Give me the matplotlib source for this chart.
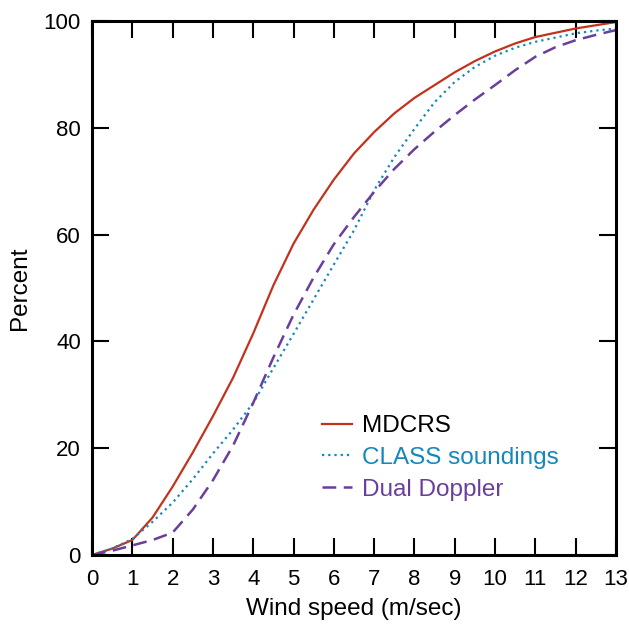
import matplotlib
matplotlib.use("Agg")
import matplotlib.pyplot as plt

plt.rcParams['font.family'] = ['Liberation Sans', 'DejaVu Sans']

wind = [0, 0.5, 1, 1.5, 2, 2.5, 3, 3.5, 4, 4.5, 5, 5.5, 6, 6.5, 7, 7.5, 8, 8.5,
        9, 9.5, 10, 10.5, 11, 11.5, 12, 12.5, 13]
mdcrs = [0, 1.2, 2.8, 7, 12.8, 19.2, 26, 33.2, 41.5, 50.5, 58.3, 64.7, 70.3, 75.2, 79.2,
         82.7, 85.6, 88, 90.4, 92.5, 94.3, 95.8, 97, 97.8, 98.6, 99.2, 99.8]
class_snd = [0, 1.2, 3, 6.2, 9.8, 14.2, 19, 23.5, 28.5, 35, 41.4, 47.9, 54.4, 60.8, 68.3,
             74.5, 79.8, 84.8, 88.6, 91.4, 93.5, 95, 96.1, 96.9, 97.7, 98.2, 98.6]
dual = [0, 0.8, 1.8, 2.8, 4.2, 8.5, 14, 20.5, 28.5, 37, 45, 52, 58.2, 63.3, 68,
        72.3, 76, 79.3, 82.4, 85.3, 88, 90.8, 93.3, 95.1, 96.4, 97.4, 98.3]

labels = ["MDCRS", "CLASS soundings", "Dual Doppler"]
colors = ["#c4321d", "#1587bd", "#6a3f9c"]
xticks = list(range(0, 14))
yticks = [0, 20, 40, 60, 80, 100]

fig = plt.figure(figsize=(6.29, 6.25), dpi=100)
ax = fig.add_axes([0.1463, 0.112, 0.8330, 0.8544])

ax.plot(wind, mdcrs, color=colors[0], lw=1.6, label=labels[0])
ax.plot(wind, class_snd, color=colors[1], lw=1.6, linestyle=(0, (1, 1.8)), label=labels[1])
ax.plot(wind, dual, color=colors[2], lw=1.8, linestyle=(0, (5.5, 3)), label=labels[2])

ax.set_xlim(0, 13)
ax.set_ylim(0, 100)
ax.set_xticks(xticks)
ax.set_yticks(yticks)
ax.tick_params(direction='in', length=12, width=1.5, labelsize=16,
               top=True, right=True, colors='black')
ax.tick_params(axis='x', pad=10)
ax.tick_params(axis='y', pad=8)
for s in ax.spines.values():
    s.set_linewidth(2.2)

ax.set_xlabel("Wind speed (m/sec)", fontsize=17.5, labelpad=6)
ax.set_ylabel("Percent", fontsize=17.5, labelpad=9)

leg = ax.legend(loc='upper left', bbox_to_anchor=(0.42, 0.28), frameon=False,
                fontsize=17.5, handlelength=1.25, handletextpad=0.4,
                labelspacing=0.4, borderaxespad=0,
                labelcolor=['black', colors[1], colors[2]])

fig.savefig("out.png", dpi=100)
